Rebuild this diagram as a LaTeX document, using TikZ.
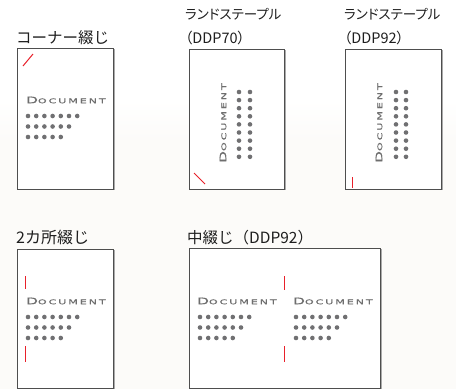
\documentclass[tikz,border=0pt]{standalone}
\usepackage{fontspec}
\usepackage{xcolor}
\usepackage{tikz}
\usetikzlibrary{positioning}
\setmainfont{Liberation Sans}
\newfontfamily\jpfont{Noto Sans CJK JP}
\newfontfamily\jppalt[RawFeature=+palt]{Noto Sans CJK JP}
\newfontfamily\docfont[FakeStretch=1.7,LetterSpace=30,FakeBold=0.6]{DejaVu Sans}
\definecolor{PageLine}{RGB}{78,78,78}
\definecolor{PageShade}{RGB}{170,170,170}
\definecolor{DocGray}{RGB}{110,110,110}
\definecolor{DotGray}{RGB}{112,112,114}
\definecolor{StapleRed}{RGB}{232,32,42}
\definecolor{Paper}{RGB}{252,251,249}
\definecolor{LabelInk}{RGB}{30,30,30}

% small caps title on each sheet
\newcommand{\doctitle}{{\docfont\fontsize{9}{9}\selectfont D\fontsize{6.5}{6.5}\selectfont OCUMENT}}

\begin{document}
\begin{tikzpicture}[x=1pt,y=-1pt,
    page/.style={draw=PageLine, line width=0.9pt, fill=white, inner sep=0pt, anchor=north west},
    doctext/.style={text=DocGray, inner sep=0pt},
    dot/.style={fill=DotGray},
    staple/.style={draw=StapleRed, line width=1pt},
    caption/.style={text=LabelInk, inner sep=0pt, anchor=base west}]
    \useasboundingbox (0,0) rectangle (456,389);
    \shade[top color=white, bottom color=Paper] (0,100) rectangle (456,140);
    \fill[Paper] (0,140) rectangle (456,389);

    % Corner staple
    \node[caption] (t1) at (16,43) {\jpfont\fontsize{15.5}{15.5}\selectfont コーナー綴じ};
    \node[page, minimum width=96pt, minimum height=141pt] (p1) at (17,48) {};
    \draw[PageShade] (114,49) -- (114,190);
    \begin{scope}[shift={(17,48)}]
        \draw[staple] (6,18) -- (16,6);
        \node[doctext, anchor=west] (d1) at (9,52) {\doctitle};
        \foreach \n [count=\r from 0] in {7,6,5}
            \foreach \c in {1,...,\n}
                \fill[dot] (11+8.2*\c-8.2, 68+10.5*\r) circle (2.3);
    \end{scope}

    % Landscape staple DDP70
    \node[caption] (t2a) at (185,19) {\jppalt\fontsize{13.5}{13.5}\selectfont ランドステープル};
    \node[caption] (t2b) at (185,43) {\jppalt\fontsize{14.5}{14.5}\selectfont （DDP70）};
    \node[page, minimum width=95pt, minimum height=140pt] (p2) at (189,49) {};
    \draw[PageShade] (285,50) -- (285,190);
    \begin{scope}[shift={(189,49)}]
        \draw[staple] (5,124) -- (16,135);
        \node[doctext, rotate=90] (d2) at (34,74) {\doctitle};
        \foreach \x in {50,61}
            \foreach \r in {0,...,8}
                \fill[dot] (\x, 43+8.1*\r) circle (2.3);
    \end{scope}

    % Landscape staple DDP92
    \node[caption] (t3a) at (344,19) {\jppalt\fontsize{13.5}{13.5}\selectfont ランドステープル};
    \node[caption] (t3b) at (344,43) {\jppalt\fontsize{14.5}{14.5}\selectfont （DDP92）};
    \node[page, minimum width=96pt, minimum height=140pt] (p3) at (345,49) {};
    \draw[PageShade] (442,50) -- (442,190);
    \begin{scope}[shift={(345,49)}]
        \draw[staple] (7.5,128) -- (7.5,139);
        \node[doctext, rotate=90] (d3) at (34,74) {\doctitle};
        \foreach \x in {51,61}
            \foreach \r in {0,...,8}
                \fill[dot] (\x, 43+8.1*\r) circle (2.3);
    \end{scope}

    % Two staples
    \node[caption] (t4) at (16,243) {\jpfont\fontsize{16}{16}\selectfont 2カ所綴じ};
    \node[page, minimum width=96pt, minimum height=139pt] (p4) at (17,249) {};
    \draw[PageShade] (114,250) -- (114,389);
    \begin{scope}[shift={(17,249)}]
        \draw[staple] (8.5,27) -- (8.5,40);
        \draw[staple] (8.5,97) -- (8.5,113);
        \node[doctext, anchor=west] (d4) at (9,52) {\doctitle};
        \foreach \n [count=\r from 0] in {7,6,5}
            \foreach \c in {1,...,\n}
                \fill[dot] (11+8.2*\c-8.2, 68+10.5*\r) circle (2.3);
    \end{scope}

    % Saddle stitch
    \node[caption] (t5) at (187,243) {\jpfont\fontsize{15.5}{15.5}\selectfont 中綴じ（DDP92）};
    \node[page, minimum width=191pt, minimum height=140pt] (p5) at (189,248) {};
    \draw[PageShade] (381,249) -- (381,389);
    \begin{scope}[shift={(189,248)}]
        \draw[staple] (95.5,28) -- (95.5,42);
        \draw[staple] (95.5,98) -- (95.5,114);
        \foreach \ox in {8,104} {
            \node[doctext, anchor=west] at (\ox,53) {\doctitle};
            \foreach \n [count=\r from 0] in {7,6,5}
                \foreach \c in {1,...,\n}
                    \fill[dot] (\ox+3+8.2*\c-8.2, 69+10.5*\r) circle (2.3);
        }
    \end{scope}
\end{tikzpicture}
\end{document}
